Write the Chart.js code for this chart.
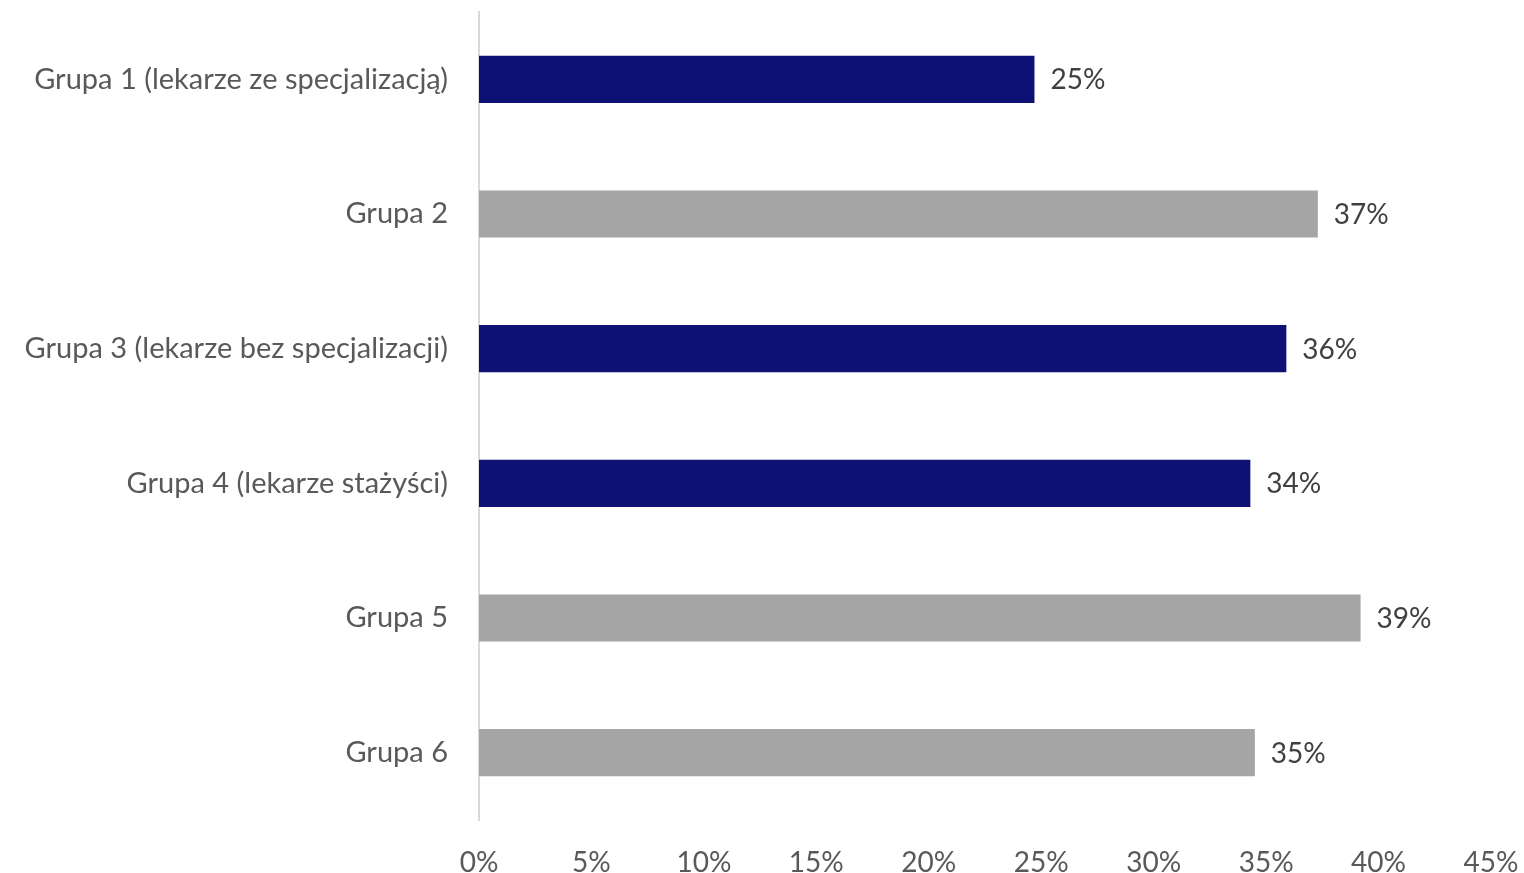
<!DOCTYPE html>
<html>
<head>
<meta charset="utf-8">
<script src="https://cdn.jsdelivr.net/npm/chart.js@4/dist/chart.umd.min.js"></script>
<style>
html,body{margin:0;padding:0;background:#fff;}
#wrap{width:1524px;height:873px;position:relative;}
</style>
</head>
<body>
<div id="wrap"><canvas id="c" width="1524" height="873"></canvas></div>
<script>
const categories = ["Grupa 1 (lekarze ze specjalizacją)", "Grupa 2", "Grupa 3 (lekarze bez specjalizacji)", "Grupa 4 (lekarze stażyści)", "Grupa 5", "Grupa 6"];
const values = [24.7, 37.3, 35.9, 34.3, 39.2, 34.5];
const valueLabels = ["25%", "37%", "36%", "34%", "39%", "35%"];
const barColors = ["#0E1174", "#A5A5A5", "#0E1174", "#0E1174", "#A5A5A5", "#A5A5A5"];
const tickValues = [0, 5, 10, 15, 20, 25, 30, 35, 40, 45];

const FONT = "Lato, 'Open Sans', sans-serif";

const labelPlugin = {
  id: 'valueLabels',
  afterDatasetsDraw(chart) {
    const ctx = chart.ctx;
    const meta = chart.getDatasetMeta(0);
    ctx.save();
    ctx.font = "28px " + FONT;
    ctx.fillStyle = "#404040";
    ctx.textAlign = "left";
    ctx.textBaseline = "middle";
    meta.data.forEach((bar, i) => {
      ctx.fillText(valueLabels[i], bar.x + 16, bar.y + 1);
    });
    ctx.restore();
  }
};

new Chart(document.getElementById('c'), {
  type: 'bar',
  data: {
    labels: categories,
    datasets: [{
      data: values,
      backgroundColor: barColors,
      borderWidth: 0,
      barPercentage: 0.35,
      categoryPercentage: 1.0
    }]
  },
  options: {
    indexAxis: 'y',
    responsive: false,
    animation: false,
    layout: { padding: { top: 12, right: 33, left: 0, bottom: 0 } },
    plugins: { legend: { display: false }, tooltip: { enabled: false } },
    scales: {
      x: {
        min: 0, max: 45,
        afterBuildTicks(axis) { axis.ticks = tickValues.map(v => ({ value: v })); },
        grid: { display: false },
        border: { display: false },
        ticks: {
          callback: v => v + '%',
          color: '#595959',
          font: { family: FONT, size: 28 },
          padding: 18,
          maxRotation: 0,
          autoSkip: false
        },
        afterFit(axis) { axis.height = 53; axis.paddingLeft = 0; axis.paddingRight = 0; }
      },
      y: {
        grid: { display: false },
        border: { display: true, color: '#D9D9D9', width: 2 },
        ticks: {
          color: '#595959',
          font: { family: FONT, size: 29 },
          padding: 23,
          autoSkip: false
        },
        afterFit(axis) { axis.width = 479; axis.paddingTop = 0; axis.paddingBottom = 0; }
      }
    }
  },
  plugins: [labelPlugin]
});
</script>
</body>
</html>
